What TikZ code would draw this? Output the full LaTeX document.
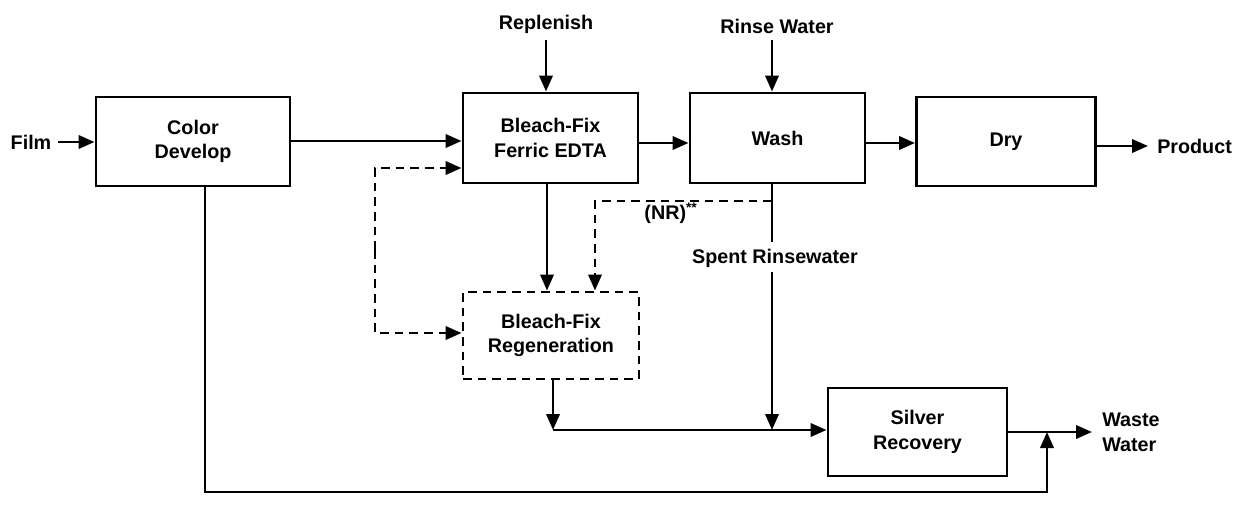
\documentclass[tikz,border=0pt]{standalone}
\usepackage{fontspec}
\setmainfont{Liberation Sans}
\usetikzlibrary{arrows.meta}

\tikzset{
  unit/.style={draw, line width=2.2pt, align=center, inner sep=0.75pt},
  lbl/.style={inner sep=0.75pt, align=left},
  flow/.style={line width=2pt, -{Triangle[length=12pt,width=10pt]}},
  dashflow/.style={flow, dash pattern={on 6.5pt off 4.5pt}},
}

\begin{document}
\begin{tikzpicture}[x=0.75pt,y=0.75pt,yscale=-1,xscale=1,
  font=\fontsize{14.8}{18.5}\selectfont\bfseries]
\useasboundingbox (0,0) rectangle (1240,525);

% process units
\node [unit, minimum width=145.5pt, minimum height=66.75pt] (cd) at (193,141.5) {Color\\Develop};
\node [unit, minimum width=131.25pt, minimum height=67.5pt] (bf) at (550.5,138) {Bleach-Fix\\Ferric EDTA};
\node [unit, minimum width=131.25pt, minimum height=67.5pt] (wash) at (777.5,138) {Wash};
\node [unit, minimum width=134.25pt, minimum height=66.75pt] (dry) at (1006,141.5) {Dry};
\node [unit, dash pattern={on 6.5pt off 4.5pt}, minimum width=132pt, minimum height=65.25pt] (regen) at (551,335.5) {Bleach-Fix\\Regeneration};
\node [unit, minimum width=134.25pt, minimum height=66pt] (sr) at (917.5,432) {Silver\\Recovery};

% Text Node
\node [lbl] (film) at (31,142) {Film};
\coordinate (filmout) at (58,142);
\node [lbl] (repl) at (546,24) {Replenish};
\node [lbl] (rinse) at (777,26) {Rinse Water};
\node [lbl, anchor=west] (prod) at (1156,146) {Product};
\coordinate (prodin) at (1148,146);
\node [lbl, anchor=west] (waste) at (1101,432) {Waste\\Water};
\coordinate (wastein) at (1092,432);
\node [lbl] (spent) at (775,258) {Spent Rinsewater};
\node [lbl] (nr) at (671,213) {(NR)\textsuperscript{**}};

% main line
\draw [flow] (filmout) -- (cd.west |- filmout);
\draw [flow] (cd.east |- 0,141) -- (bf.west |- 0,141);
\draw [flow] (546,40) -- (bf.north -| repl);
\draw [flow] (772,40) -- (wash.north -| 772,0);
\draw [flow] (bf.east |- 0,143) -- (wash.west |- 0,143);
\draw [flow] (wash.east |- 0,143) -- (dry.west |- 0,143);
\draw [flow] (dry.east |- prodin) -- (prodin);

% regeneration loop
\draw [flow] (bf.south -| 547,0) -- (regen.north -| 547,0);
\coordinate (lp) at (375,250);
\draw [dashflow] (lp) |- (bf.west |- 0,168);
\draw [dashflow] (lp) |- (regen.west |- 0,333);
\coordinate (nrc) at (772,201);
\draw [dashflow] (nrc) -- (595,201) -- (regen.north -| 595,0);

% to silver recovery
\coordinate (jn) at (553,430);
\draw [line width=2pt] (wash.south -| nrc) -- (772,242);
\draw [flow] (772,272) -- (nrc |- jn);
\draw [flow] (regen.south -| jn) -- (jn);
\draw [flow] (jn) -- (sr.west |- jn);
\draw [flow] (sr.east) -- (wastein);
\draw [flow] (cd.south -| 205,0) -- (205,492) -- (1047,492) -- (1047,432);

\end{tikzpicture}
\end{document}
